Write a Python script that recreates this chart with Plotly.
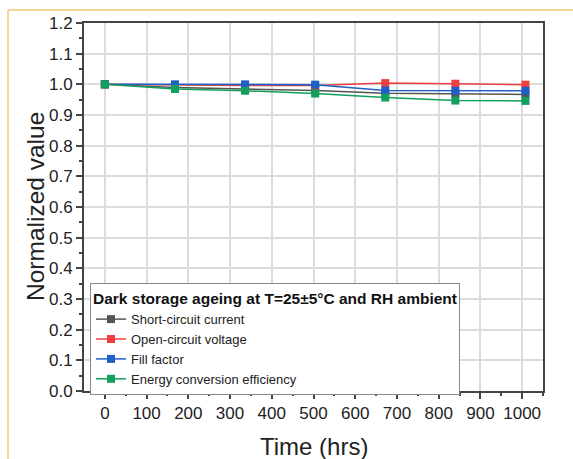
import plotly.graph_objects as go

hours = [0, 168, 336, 504, 672, 840, 1008]
jsc = [1.0, 0.990, 0.985, 0.980, 0.971, 0.969, 0.967]
voc = [1.0, 0.997, 0.996, 0.996, 1.004, 1.002, 0.999]
ff = [1.0, 1.000, 1.000, 0.999, 0.980, 0.979, 0.979]
eff = [1.0, 0.985, 0.979, 0.970, 0.957, 0.947, 0.946]

series = [
    ("Short-circuit current", jsc, "#555555"),
    ("Open-circuit voltage", voc, "#ee4040"),
    ("Fill factor", ff, "#1f5fc8"),
    ("Energy conversion efficiency", eff, "#12a05c"),
]

x_ticks = list(range(0, 1001, 100))
y_ticks = [round(i * 0.1, 1) for i in range(13)]

fig = go.Figure()
for name, vals, col in series:
    fig.add_trace(go.Scatter(
        x=hours, y=vals, name=name, mode="lines+markers",
        line=dict(color=col, width=1.5),
        marker=dict(symbol="square", size=8, color=col),
    ))

W, H = 573, 459
L, R, T, B = 84, 30, 23, 68
pw, ph = W - L - R, H - T - B

def px_x(px):
    return (px - L) / pw

def px_y(py):
    return (H - B - py) / ph

orange = "#f6c873"
fig.add_shape(type="line", xref="paper", yref="paper",
              x0=px_x(8), x1=px_x(600), y0=px_y(10), y1=px_y(10),
              line=dict(color=orange, width=1.5))
fig.add_shape(type="line", xref="paper", yref="paper",
              x0=px_x(8), x1=px_x(8), y0=px_y(10), y1=px_y(470),
              line=dict(color=orange, width=1.5))

FONT = "Liberation Sans, Arial"
axis_common = dict(
    showline=True, linecolor="#444444", linewidth=2, mirror=True,
    showgrid=True, gridcolor="#dcdcdc", gridwidth=1.5,
    ticks="outside", ticklen=6, tickwidth=1.5, tickcolor="#444444",
    zeroline=False, automargin=False,
    tickfont=dict(family=FONT, size=17, color="#222222"),
)

fig.update_xaxes(
    range=[-50, 1050], tickvals=x_ticks,
    minor=dict(ticks="outside", ticklen=3, tickwidth=1.5, tickcolor="#444444",
               tickvals=[50 + 100 * i for i in range(11)], showgrid=False),
    **axis_common,
)
fig.update_yaxes(
    range=[0, 1.2], tickvals=y_ticks, tickformat=".1f",
    minor=dict(ticks="outside", ticklen=3, tickwidth=1.5, tickcolor="#444444",
               tickvals=[0.05 + 0.1 * i for i in range(12)], showgrid=False),
    **axis_common,
)

fig.add_annotation(text="Time (hrs)", xref="paper", yref="paper",
                   x=0.5, y=px_y(446), xanchor="center", yanchor="middle",
                   showarrow=False, font=dict(family=FONT, size=24, color="#222222"))
fig.add_annotation(text="Normalized value", xref="paper", yref="paper",
                   x=px_x(35), y=0.5, xanchor="center", yanchor="middle",
                   textangle=-90, showarrow=False,
                   font=dict(family=FONT, size=24.5, color="#222222"))

fig.update_layout(
    width=W, height=H,
    margin=dict(l=L, r=R, t=T, b=B),
    paper_bgcolor="white", plot_bgcolor="white",
    font=dict(family=FONT, color="#222222"),
    legend=dict(
        x=px_x(90), y=px_y(283), xanchor="left", yanchor="top",
        bgcolor="white", bordercolor="#888888", borderwidth=1,
        title=dict(text="<b>Dark storage ageing at T=25±5°C and RH ambient</b>",
                   font=dict(size=15.5, color="#111111"), side="top"),
        font=dict(size=13, color="#222222"),
        tracegroupgap=0, itemwidth=30,
    ),
    showlegend=True,
)

fig.write_html("out.html", post_script="document.body.style.margin='0';",
               config={"displayModeBar": False})
